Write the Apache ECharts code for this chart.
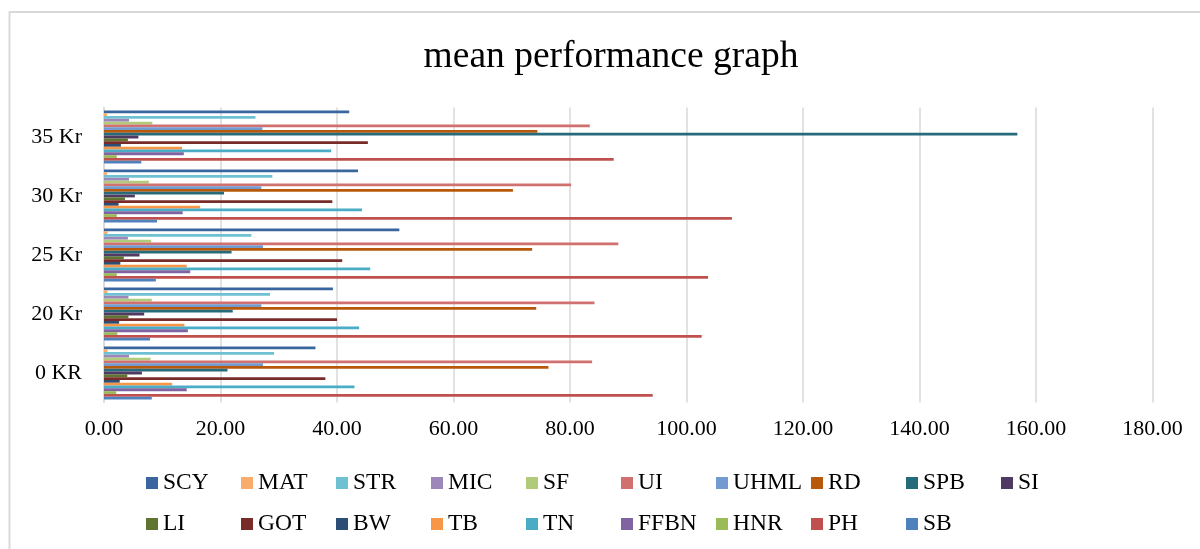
<!DOCTYPE html>
<html>
<head>
<meta charset="utf-8">
<title>mean performance graph</title>
<script src="https://cdn.jsdelivr.net/npm/echarts@6/dist/echarts.min.js"></script>
<style>
  html, body { margin: 0; padding: 0; background: #fff; }
  #chart { width: 1200px; height: 549px; }
</style>
</head>
<body>
<div id="chart"></div>
<script>
// Categories (bottom to top on the vertical axis)
const categories = ['0 KR', '20 Kr', '25 Kr', '30 Kr', '35 Kr'];

// Mean values per trait, one entry per category
const SCY  = [36.3, 39.3, 50.7, 43.6, 42.1];
const MAT  = [0.6, 0.6, 0.6, 0.5, 0.5];
const STR  = [29.2, 28.5, 25.3, 28.9, 26.0];
const MIC  = [4.3, 4.2, 4.1, 4.3, 4.3];
const SF   = [8.0, 8.2, 8.1, 7.7, 8.3];
const UI   = [83.8, 84.2, 88.3, 80.2, 83.4];
const UHML = [27.3, 27.0, 27.3, 27.0, 27.2];
const RD   = [76.3, 74.2, 73.5, 70.2, 74.4];
const SPB  = [21.2, 22.1, 21.9, 20.6, 156.8];
const SI   = [6.5, 6.9, 6.1, 5.3, 5.9];
const LI   = [4.0, 4.2, 3.4, 3.6, 4.1];
const GOT  = [38.0, 40.0, 40.9, 39.2, 45.3];
const BW   = [2.7, 2.6, 2.8, 2.5, 2.9];
const TB   = [11.7, 13.8, 14.2, 16.5, 13.4];
const TN   = [43.0, 43.8, 45.7, 44.3, 39.0];
const FFBN = [14.2, 14.4, 14.8, 13.5, 13.7];
const HNR  = [2.1, 2.3, 2.2, 2.2, 2.2];
const PH   = [94.2, 102.6, 103.7, 107.8, 87.5];
const SB   = [8.2, 7.9, 8.9, 9.1, 6.4];

// Value axis ticks
const xTicks = { min: 0, max: 180, step: 20 };

// Traits in legend order
const traitNames = ['SCY', 'MAT', 'STR', 'MIC', 'SF', 'UI', 'UHML', 'RD', 'SPB', 'SI',
                    'LI', 'GOT', 'BW', 'TB', 'TN', 'FFBN', 'HNR', 'PH', 'SB'];
const traitValues = [SCY, MAT, STR, MIC, SF, UI, UHML, RD, SPB, SI,
                     LI, GOT, BW, TB, TN, FFBN, HNR, PH, SB];

// Office-style palette, one colour per trait
const palette = ['#3A66A0', '#F9AC6B', '#6FC0D3', '#9D86B8', '#B1CB7B', '#D0706F', '#739BD0',
                 '#B7580A', '#276B7B', '#4E3A62', '#5E7430', '#782C2A', '#2C4D76', '#F79646',
                 '#4BACC6', '#8064A2', '#9BBB59', '#C0504D', '#4F81BD'];

const FONT = "'Liberation Serif', 'Times New Roman', serif";

const series = traitNames.map((name, i) => ({
  name: name,
  type: 'bar',
  data: traitValues[i],
  barGap: '0%',
  barCategoryGap: '10%',
  itemStyle: { color: palette[i] },
  emphasis: { disabled: true }
}));

// Legend laid out as a grid: ten columns, two rows, one legend entry per cell
const LEGEND_COLS = 10, LEGEND_X0 = 146, LEGEND_DX = 95, LEGEND_Y0 = 471, LEGEND_DY = 41;
const legends = traitNames.map((name, i) => ({
  data: [name],
  left: LEGEND_X0 + (i % LEGEND_COLS) * LEGEND_DX,
  top: LEGEND_Y0 + Math.floor(i / LEGEND_COLS) * LEGEND_DY,
  orient: 'horizontal',
  itemWidth: 12, itemHeight: 12, itemGap: 0,
  padding: 0,
  icon: 'rect',
  selectedMode: false,
  textStyle: { fontFamily: FONT, fontSize: 23.5, color: '#000' }
}));

const chart = echarts.init(document.getElementById('chart'), null, { renderer: 'canvas' });
chart.setOption({
  animation: false,
  color: palette,
  title: {
    text: 'mean performance graph',
    left: 606,
    textAlign: 'center',
    top: 33,
    textStyle: { fontFamily: FONT, fontSize: 37.5, fontWeight: 'normal', color: '#000' }
  },
  graphic: [{
    type: 'rect',
    shape: { x: 9.5, y: 12, width: 1300, height: 700 },
    style: { fill: 'none', stroke: '#D9D9D9', lineWidth: 2 },
    silent: true
  }],
  grid: { left: 104, right: 47.5, top: 107.5, bottom: 146.5, containLabel: false },
  xAxis: {
    type: 'value',
    min: xTicks.min,
    max: xTicks.max,
    interval: xTicks.step,
    axisLine: { show: false },
    axisTick: { show: false },
    splitLine: { lineStyle: { color: '#D9D9D9', width: 1.5 } },
    axisLabel: {
      fontFamily: FONT, fontSize: 22, color: '#000', margin: 16,
      formatter: v => v.toFixed(2)
    }
  },
  yAxis: {
    type: 'category',
    data: categories,
    axisLine: { show: true, lineStyle: { color: '#D9D9D9', width: 1.5 } },
    axisTick: { show: false },
    axisLabel: { fontFamily: FONT, fontSize: 22, color: '#000', margin: 22 }
  },
  legend: legends,
  series: series
});
</script>
</body>
</html>
